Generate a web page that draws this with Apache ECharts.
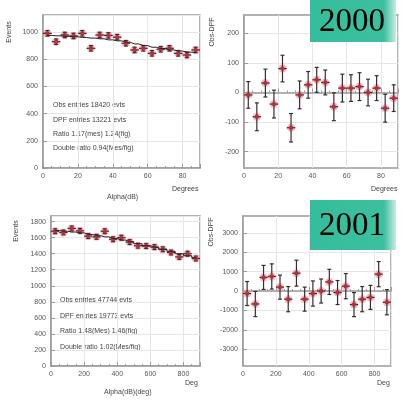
<!DOCTYPE html>
<html>
<head>
<meta charset="utf-8">
<script src="https://cdn.jsdelivr.net/npm/echarts@6/dist/echarts.min.js"></script>
<style>
  html, body { margin: 0; padding: 0; background: #fff; }
  #chart { width: 402px; height: 400px; }
</style>
</head>
<body>
<div id="chart"></div>
<script>
// 2000 run: angle bins (degrees)
const angleBins = [2.5, 7.5, 12.5, 17.5, 22.5, 27.5, 32.5, 37.5, 42.5, 47.5, 52.5, 57.5, 62.5, 67.5, 72.5, 77.5, 82.5, 87.5];
const events2000 = [990, 929, 978, 971, 990, 880, 978, 975, 962, 917, 868, 880, 843, 873, 880, 843, 831, 868];
const eventsErr2000 = [20, 20, 20, 20, 20, 20, 20, 20, 20, 20, 20, 20, 20, 20, 20, 20, 20, 20];
const expected2000 = [975, 972, 968, 965, 960, 955, 950, 942, 935, 925, 912, 900, 888, 878, 868, 860, 852, 848];
const diff2000 = [-8, -82, 32, -39, 81, -119, -8, 26, 43, 34, -48, 15, 15, 20, 0, 15, -53, -19];
const diffErr2000 = [45, 47, 47, 47, 45, 48, 47, 45, 42, 42, 47, 47, 45, 47, 45, 42, 47, 45];

// 2001 run: bins 0..900
const binsDeg = [25, 75, 125, 175, 225, 275, 325, 375, 425, 475, 525, 575, 625, 675, 725, 775, 825, 875];
const events2001 = [1680, 1665, 1715, 1685, 1620, 1610, 1680, 1580, 1600, 1545, 1500, 1495, 1482, 1455, 1415, 1360, 1400, 1340];
const eventsErr2001 = [30, 30, 30, 30, 30, 30, 30, 30, 30, 30, 30, 30, 30, 30, 30, 30, 30, 30];
const expected2001 = [1690, 1680, 1670, 1660, 1640, 1625, 1610, 1590, 1570, 1550, 1525, 1500, 1480, 1455, 1430, 1400, 1375, 1350];
const diff2001 = [-130, -670, 700, 750, 200, -420, 920, -420, -130, 0, 470, -80, 250, -700, -420, -330, 870, -580];
const diffErr2001 = [620, 650, 620, 650, 620, 650, 670, 620, 650, 620, 650, 620, 650, 620, 650, 620, 650, 650];

const ticks2000Diff = [-200, -100, 0, 100, 200];
const ticks2001Diff = [-3000, -2000, -1000, 0, 1000, 2000, 3000];

const infoLines2000 = ['Obs entries 18420 evts', 'DPF entries 13221 evts', 'Ratio 1.17(mes) 1.24(fig)', 'Double ratio 0.94(Mes/fig)'];
const infoLines2001 = ['Obs entries 47744 evts', 'DPF entries 19773 evts', 'Ratio 1.48(Mes) 1.46(fig)', 'Double ratio 1.02(Mes/fig)'];

const halfBin2000 = 2.5;
const halfBin2001 = 25;

const frame = '#9a9a9a';
const labelColor = '#555';
const font = 'Liberation Sans, Arial, sans-serif';

function points(xs, ys, ex, ey) {
  return xs.map((x, i) => [x, ys[i], ex, ey[i]]);
}

function errRender(params, api) {
  const x = api.value(0), y = api.value(1), ex = api.value(2), ey = api.value(3);
  const c = api.coord([x, y]);
  const l = api.coord([x - ex, y]);
  const r = api.coord([x + ex, y]);
  const t = api.coord([x, y + ey]);
  const b = api.coord([x, y - ey]);
  const ink = { stroke: '#3b2b2e', lineWidth: 1.2 };
  return {
    type: 'group',
    children: [
      { type: 'circle', shape: { cx: c[0], cy: c[1], r: 4 }, style: { fill: 'rgba(225,140,150,0.55)' } },
      { type: 'line', shape: { x1: l[0], y1: c[1], x2: r[0], y2: c[1] }, style: ink },
      { type: 'line', shape: { x1: c[0], y1: t[1], x2: c[0], y2: b[1] }, style: ink },
      { type: 'line', shape: { x1: c[0] - 2, y1: t[1], x2: c[0] + 2, y2: t[1] }, style: ink },
      { type: 'line', shape: { x1: c[0] - 2, y1: b[1], x2: c[0] + 2, y2: b[1] }, style: ink },
      { type: 'circle', shape: { cx: c[0], cy: c[1], r: 2.2 }, style: { fill: '#b3303c' } }
    ]
  };
}

const plain = v => String(v);

function xAxis(gi, max) {
  return {
    gridIndex: gi, type: 'value', min: 0, max: max, interval: max / 4.5,
    axisLine: { show: true, lineStyle: { color: frame, width: 1.5 } },
    axisTick: { inside: true, length: 4, lineStyle: { color: frame } },
    minorTick: { show: true, splitNumber: 4, length: 2, lineStyle: { color: frame } },
    axisLabel: { fontSize: 7, color: labelColor, fontFamily: font, margin: 5, showMaxLabel: false, formatter: plain },
    splitLine: { show: true, lineStyle: { color: '#e6e6e6' } }
  };
}

function yAxis(gi, min, max, interval, custom) {
  const a = {
    gridIndex: gi, type: 'value', min: min, max: max,
    axisLine: { show: true, lineStyle: { color: frame, width: 1.5 } },
    axisTick: { inside: true, length: 4, lineStyle: { color: frame } },
    axisLabel: { fontSize: 7, color: labelColor, fontFamily: font, margin: 5, showMaxLabel: false, formatter: plain },
    splitLine: { show: true, lineStyle: { color: '#e6e6e6' } }
  };
  if (custom) {
    a.axisLabel.customValues = custom;
    a.axisTick.customValues = custom;
    a.axisLabel.showMaxLabel = true;
  } else {
    a.interval = interval;
  }
  return a;
}

function txt(x, y, s, extra) {
  return Object.assign({
    type: 'text', x: x, y: y,
    style: { text: s, fontSize: 7, fill: '#444', fontFamily: font }
  }, extra || {});
}

function vtxt(x, y, s) {
  return {
    type: 'text', x: x, y: y, rotation: Math.PI / 2,
    style: { text: s, fontSize: 7, fill: '#444', fontFamily: font, align: 'center', verticalAlign: 'middle' }
  };
}

function yearBox(y, h, label) {
  return [
    {
      type: 'rect', z: 50, shape: { x: 310, y: y, width: 86, height: h },
      style: {
        fill: new echarts.graphic.LinearGradient(0, 0, 1, 0, [
          { offset: 0, color: '#35bd9b' },
          { offset: 0.86, color: '#3cc0a0' },
          { offset: 1, color: '#c8ece2' }
        ])
      }
    },
    {
      type: 'text', z: 51, x: 352, y: y + h / 2 + 1,
      style: { text: label, fontSize: 33, fill: '#000', fontFamily: 'Liberation Serif, serif', align: 'center', verticalAlign: 'middle' }
    }
  ];
}

const chart = echarts.init(document.getElementById('chart'));

const graphics = [
  vtxt(9, 32, 'Events'),
  vtxt(212, 32, 'Obs-DPF'),
  vtxt(16, 231, 'Events'),
  vtxt(211, 232, 'Obs-DPF'),
  txt(172, 186, 'Degrees'),
  txt(371, 186, 'Degrees'),
  txt(107, 194, 'Alpha(dB)'),
  txt(185, 380, 'Deg'),
  txt(377, 380, 'Deg'),
  txt(104, 389, 'Alpha(dB)(deg)')
];
infoLines2000.forEach((s, i) => graphics.push(txt(53, 102 + i * 14.3, s)));
infoLines2001.forEach((s, i) => graphics.push(txt(60, 297 + i * 15.5, s)));
graphics.push(...yearBox(0, 42, '2000'), ...yearBox(200, 50, '2001'));

chart.setOption({
  animation: false,
  backgroundColor: '#fff',
  grid: [
    { left: 43, top: 15, width: 157, height: 153, show: true, borderColor: frame, borderWidth: 1.5 },
    { left: 244, top: 15, width: 154, height: 153, show: true, borderColor: frame, borderWidth: 1.5 },
    { left: 51, top: 216, width: 149, height: 150, show: true, borderColor: frame, borderWidth: 1.5 },
    { left: 243, top: 216, width: 148, height: 150, show: true, borderColor: frame, borderWidth: 1.5 }
  ],
  xAxis: [xAxis(0, 90), xAxis(1, 90), xAxis(2, 900), xAxis(3, 900)],
  yAxis: [
    yAxis(0, 0, 1125, 200),
    yAxis(1, -255, 262, null, ticks2000Diff),
    yAxis(2, 0, 1870, 200),
    yAxis(3, -3870, 3870, null, ticks2001Diff)
  ],
  series: [
    {
      type: 'line', xAxisIndex: 0, yAxisIndex: 0, step: 'middle', symbol: 'none',
      lineStyle: { color: '#222', width: 1 },
      data: angleBins.map((x, i) => [x, expected2000[i]])
    },
    {
      type: 'custom', xAxisIndex: 0, yAxisIndex: 0, renderItem: errRender,
      data: points(angleBins, events2000, halfBin2000, eventsErr2000)
    },
    {
      type: 'custom', xAxisIndex: 1, yAxisIndex: 1, renderItem: errRender,
      data: points(angleBins, diff2000, halfBin2000, diffErr2000)
    },
    {
      type: 'line', xAxisIndex: 2, yAxisIndex: 2, step: 'middle', symbol: 'none',
      lineStyle: { color: '#222', width: 1 },
      data: binsDeg.map((x, i) => [x, expected2001[i]])
    },
    {
      type: 'custom', xAxisIndex: 2, yAxisIndex: 2, renderItem: errRender,
      data: points(binsDeg, events2001, halfBin2001, eventsErr2001)
    },
    {
      type: 'custom', xAxisIndex: 3, yAxisIndex: 3, renderItem: errRender,
      data: points(binsDeg, diff2001, halfBin2001, diffErr2001)
    }
  ],
  graphic: graphics
});
</script>
</body>
</html>
